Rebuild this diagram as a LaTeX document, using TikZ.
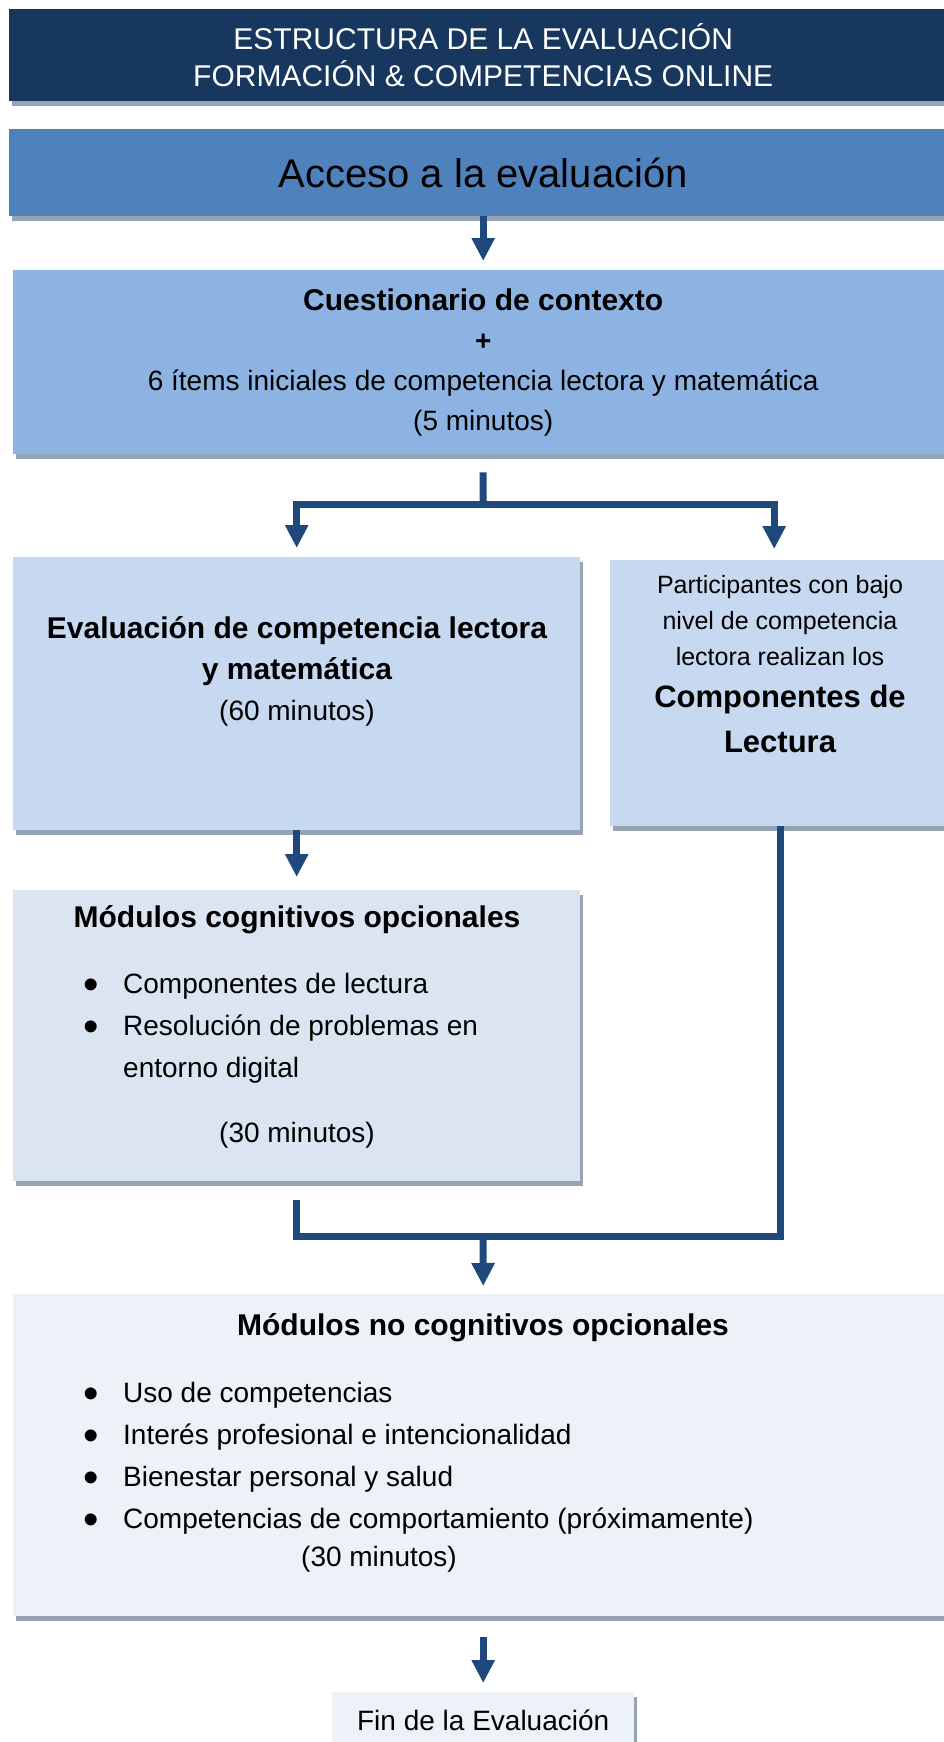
\documentclass[tikz,border=0pt]{standalone}
\usepackage{fontspec}
\setmainfont{Liberation Sans}
\usetikzlibrary{arrows.meta,shadows}

\definecolor{titleblue}{HTML}{17375E}
\definecolor{accblue}{HTML}{4F81BD}
\definecolor{cuestblue}{HTML}{8DB3E2}
\definecolor{evalblue}{HTML}{C6D9F1}
\definecolor{cogblue}{HTML}{DBE5F1}
\definecolor{noncogblue}{HTML}{EDF1F8}
\definecolor{shadowgray}{HTML}{95A3B4}
\definecolor{arrowblue}{HTML}{1F497D}

\newcommand{\itm}{\makebox[40pt][l]{\raisebox{-6pt}{\fontsize{44}{42}\selectfont\textbullet}}}

\begin{document}
\begin{tikzpicture}[x=1pt,y=-1pt,
    box/.style={rectangle, inner sep=0pt, anchor=north west, align=center,
      drop shadow={shadow xshift=3pt, shadow yshift=-5pt, fill=shadowgray, opacity=1}},
    link/.style={draw=arrowblue, line width=7pt},
    arr/.style={link, -{Triangle[width=22pt,length=23pt]}}]

  \useasboundingbox (0,0) rectangle (944,1742);
  \clip (0,0) rectangle (944,1742);

  \begin{scope}[every node/.style={box, font=\fontsize{28}{40}\selectfont}]
    \node[fill=titleblue, text=white, minimum width=948pt, minimum height=92pt,
      font=\fontsize{30}{37}\selectfont] (title) at (9,9)
      {ESTRUCTURA DE LA EVALUACIÓN\\FORMACIÓN \& COMPETENCIAS ONLINE};
    \node[fill=accblue, minimum width=948pt, minimum height=87pt,
      font=\fontsize{40}{48}\selectfont] (acceso) at (9,129) {Acceso a la evaluación};
    \node[fill=cuestblue, minimum width=940pt, minimum height=184pt] (cuest) at (13,270)
      {{\bfseries\fontsize{30}{40}\selectfont Cuestionario de contexto}\\
       {\bfseries +}\\
       6 ítems iniciales de competencia lectora y matemática\\
       (5 minutos)};
    \node[fill=evalblue, minimum width=567pt, minimum height=273pt] (evalbox) at (13,557) {};
    \node[fill=evalblue, minimum width=340pt, minimum height=266pt] (lowbox) at (610,560) {};
    \node[fill=cogblue, minimum width=567pt, minimum height=291pt] (cogbox) at (13,890) {};
    \node[fill=noncogblue, minimum width=940pt, minimum height=322pt] (noncog) at (13,1294) {};
    \node[fill=noncogblue, minimum width=302pt, minimum height=56pt] (fin) at (332,1692)
      {Fin de la Evaluación};
  \end{scope}

  \begin{scope}[every node/.style={align=center, inner sep=0pt, font=\fontsize{28}{41}\selectfont}]
    \node (evaltxt) at (297,671)
      {{\bfseries\fontsize{30}{41}\selectfont Evaluación de competencia lectora}\\
       {\bfseries\fontsize{30}{41}\selectfont y matemática}\\
       (60 minutos)};
    \node[font=\fontsize{25}{36}\selectfont] (lowtxt) at (780,664)
      {Participantes con bajo\\
       nivel de competencia\\
       lectora realizan los\\[6pt]
       {\bfseries\fontsize{31}{45}\selectfont Componentes de}\\[9pt]
       {\bfseries\fontsize{31}{45}\selectfont Lectura}};
    \node[font=\bfseries\fontsize{30}{40}\selectfont] (cogtitle) at (297,920)
      {Módulos cognitivos opcionales};
    \node[anchor=west, font=\fontsize{28}{42}\selectfont] (coglist) at (83,1027)
      {\begin{tabular}{@{}l@{}l@{}}
        \itm & Componentes de lectura\\
        \itm & Resolución de problemas en\\
             & entorno digital
       \end{tabular}};
    \node (cogmin) at (297,1135) {(30 minutos)};
    \node[font=\bfseries\fontsize{30}{40}\selectfont] (noncogtitle) at (483,1328)
      {Módulos no cognitivos opcionales};
    \node[anchor=west, font=\fontsize{28}{42}\selectfont] (noncoglist) at (83,1457)
      {\begin{tabular}{@{}l@{}l@{}}
        \itm & Uso de competencias\\
        \itm & Interés profesional e intencionalidad\\
        \itm & Bienestar personal y salud\\
        \itm & Competencias de comportamiento (próximamente)
       \end{tabular}};
    \node (noncogmin) at (379,1559) {(30 minutos)};
  \end{scope}

  \coordinate (split) at (483,504);
  \coordinate (merge) at (483,1236);

  \draw[arr] (acceso.south) -- ([yshift=9pt]cuest.north);
  \draw[link] ([yshift=-18pt]cuest.south) -- (split);
  \draw[arr] (split) -| ([yshift=9pt]evalbox.north);
  \draw[arr] (split) -| ([xshift=-6pt,yshift=11pt]lowbox.north);
  \draw[arr] (evalbox.south) -- ([yshift=13pt]cogbox.north);
  \draw[link] ([yshift=-19pt]cogbox.south) |- (merge) -| (lowbox.south);
  \draw[arr] (merge) -- ([yshift=8pt]noncog.north);
  \draw[arr] ([yshift=-21pt]noncog.south) -- ([yshift=9pt]fin.north);

\end{tikzpicture}
\end{document}
